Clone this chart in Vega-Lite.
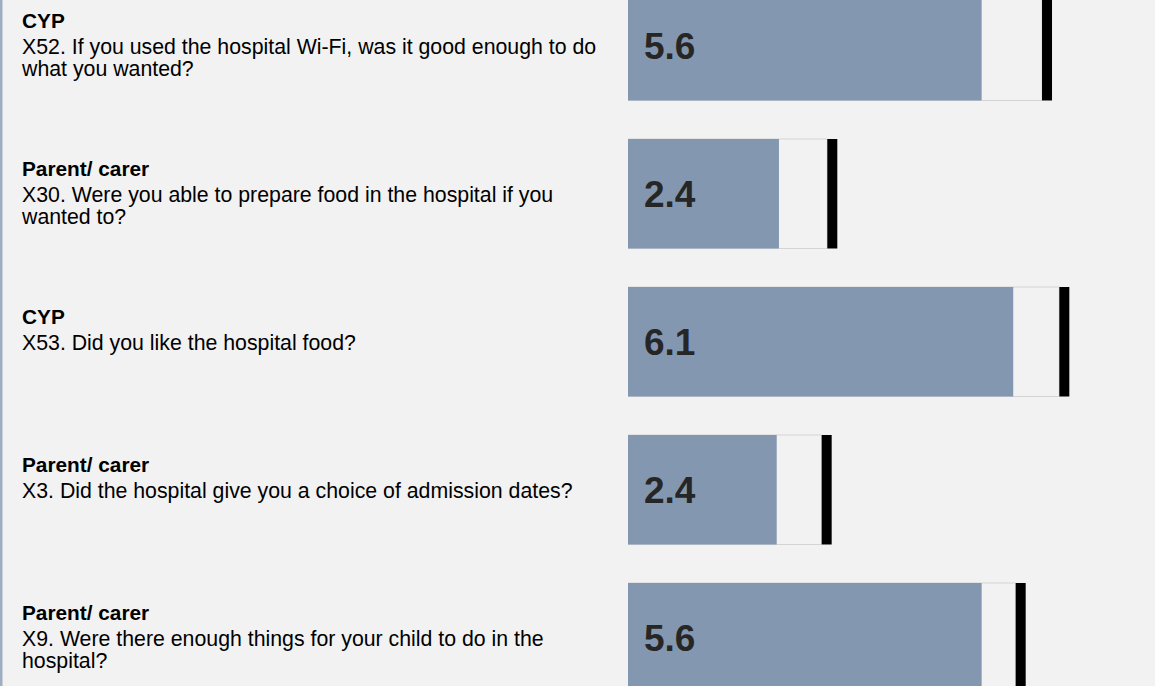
{
  "$schema": "https://vega.github.io/schema/vega-lite/v6.json",
  "background": "#f2f2f2",
  "padding": 0,
  "spacing": 10,
  "config": {"view": {"stroke": null}, "font": "Liberation Sans"},
  "data": {
    "values": [
      {"code": "X52", "group": "CYP", "qlines": ["X52. If you used the hospital Wi-Fi, was it good enough to do", "what you wanted?"], "value": 5.6, "max": 6.556},
      {"code": "X30", "group": "Parent/ carer", "qlines": ["X30. Were you able to prepare food in the hospital if you", "wanted to?"], "value": 2.39, "max": 3.156},
      {"code": "X53", "group": "CYP", "qlines": ["X53. Did you like the hospital food?"], "value": 6.1, "max": 6.83},
      {"code": "X3", "group": "Parent/ carer", "qlines": ["X3. Did the hospital give you a choice of admission dates?"], "value": 2.355, "max": 3.067},
      {"code": "X9", "group": "Parent/ carer", "qlines": ["X9. Were there enough things for your child to do in the", "hospital?"], "value": 5.6, "max": 6.139}
    ]
  },
  "hconcat": [
    {
      "width": 618,
      "height": 686,
      "layer": [
        {
          "data": {"values": [{"b": 1}]},
          "mark": {"type": "rect", "color": "#9fadc2"},
          "encoding": {"x": {"value": 0}, "x2": {"value": 2.5}, "y": {"value": 0}, "y2": {"value": 686}}
        },
        {
          "mark": {"type": "text", "align": "left", "baseline": "alphabetic", "font": "Liberation Sans", "fontSize": 20.8, "fontWeight": "bold", "dy": -17.5, "color": "#000000"},
          "encoding": {
            "x": {"value": 22},
            "y": {"field": "code", "type": "nominal", "sort": null, "axis": null, "scale": {"type": "band", "range": [-9, 692.5], "paddingInner": 0.26, "paddingOuter": 0}},
            "text": {"field": "group", "type": "nominal"}
          }
        },
        {
          "mark": {"type": "text", "align": "left", "baseline": "alphabetic", "font": "Liberation Sans", "fontSize": 21.3, "lineHeight": 22, "dy": 8, "color": "#000000"},
          "encoding": {
            "x": {"value": 22},
            "y": {"field": "code", "type": "nominal", "sort": null, "axis": null, "scale": {"type": "band", "range": [-9, 692.5], "paddingInner": 0.26, "paddingOuter": 0}},
            "text": {"field": "qlines", "type": "nominal"}
          }
        }
      ]
    },
    {
      "width": 527,
      "height": 686,
      "layer": [
        {
          "mark": {"type": "bar", "fill": "#f2f2f2", "stroke": "#d4d4d4", "strokeWidth": 1, "clip": true},
          "encoding": {
            "x": {"field": "max", "type": "quantitative", "axis": null, "scale": {"domain": [0, 8.345], "nice": false, "zero": true}},
            "y": {"field": "code", "type": "nominal", "sort": null, "axis": null, "scale": {"type": "band", "range": [-9, 692.5], "paddingInner": 0.26, "paddingOuter": 0}}
          }
        },
        {
          "mark": {"type": "bar", "fill": "#8497b0", "clip": true},
          "encoding": {
            "x": {"field": "value", "type": "quantitative"},
            "y": {"field": "code", "type": "nominal", "sort": null}
          }
        },
        {
          "mark": {"type": "tick", "color": "#000000", "opacity": 1, "thickness": 10, "size": 109.5, "xOffset": 5, "clip": true},
          "encoding": {
            "x": {"field": "max", "type": "quantitative"},
            "y": {"field": "code", "type": "nominal", "sort": null}
          }
        },
        {
          "mark": {"type": "text", "align": "left", "baseline": "middle", "font": "Liberation Sans", "fontSize": 37, "fontWeight": "bold", "dx": 16, "dy": 2, "color": "#262626", "clip": true},
          "encoding": {
            "x": {"datum": 0},
            "y": {"field": "code", "type": "nominal", "sort": null},
            "text": {"field": "value", "type": "quantitative", "format": ".1f"}
          }
        }
      ]
    }
  ]
}
